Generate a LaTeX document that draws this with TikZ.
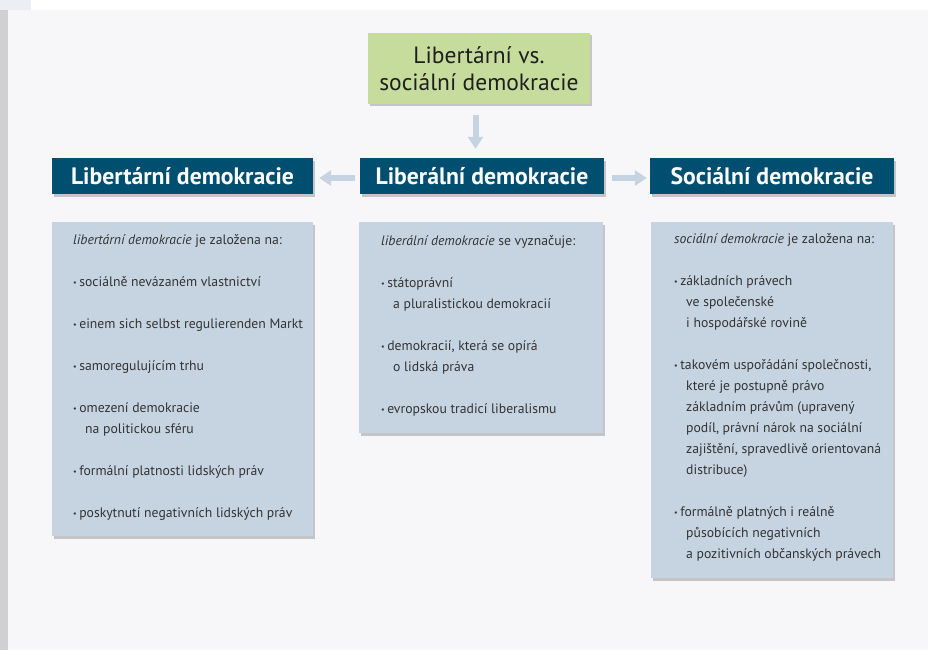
\documentclass[tikz,border=0pt]{standalone}
\usepackage{fontspec}
\setmainfont{PT Sans}
\usetikzlibrary{arrows.meta,shadows}
\definecolor{bg}{HTML}{F7F7F9}
\definecolor{tealhdr}{HTML}{004F70}
\definecolor{boxblue}{HTML}{C6D4E1}
\definecolor{titlegreen}{HTML}{C5DC9D}
\definecolor{txt}{HTML}{333333}
\definecolor{strip}{HTML}{D0D0D3}
\definecolor{topleft}{HTML}{ECEEF3}
\newcommand\bul{{\fontsize{8}{8}\selectfont\raisebox{0.8pt}{•}}\hspace{2.5pt}}
\newcommand\cont{\hspace{12pt}}
\begin{document}
\begin{tikzpicture}[x=1pt,y=-1pt,
  shad/.style={drop shadow={shadow xshift=2pt,shadow yshift=-2.5pt,opacity=0.2,fill=black}},
  titlebox/.style={shad,fill=titlegreen,minimum width=222pt,minimum height=71pt,inner sep=0pt,align=center,font=\fontsize{23.5}{27}\selectfont,text=black!88},
  hdr/.style={shad,fill=tealhdr,text=white,minimum height=36pt,inner sep=0pt,font=\fontsize{23.7}{26}\selectfont\bfseries},
  cbox/.style={shad,fill=boxblue,anchor=north west,inner sep=0pt},
  ctext/.style={anchor=north west,inner sep=0pt,align=left,text=txt,font=\fontsize{13.7}{21}\selectfont},
  arr/.style={draw=boxblue,line width=6pt,-{Triangle[width=15pt,length=12pt]}}]
\useasboundingbox (0,0) rectangle (928,650);
% background
\fill[white] (0,0) rectangle (928,650);
\fill[topleft] (0,0) rectangle (31,10);
\fill[strip] (0,10) rectangle (8,650);
\fill[bg] (8,10) rectangle (928,650);
% title
\node[titlebox] (title) at (479,68.5) {Libertární vs.\\sociální demokracie};
% headers
\node[hdr,minimum width=261pt] (libhdr) at (182.5,176) {Libertární demokracie};
\node[hdr,minimum width=244pt] (lbrhdr) at (482,176) {Liberální demokracie};
\node[hdr,minimum width=244pt] (sochdr) at (772,176) {Sociální demokracie};
% arrows
\draw[arr] ([xshift=-3.5pt,yshift=-11pt]title.south) -- ([xshift=-6.5pt,yshift=9pt]lbrhdr.north);
\draw[arr] ([xshift=-5pt,yshift=-2pt]lbrhdr.west) -- ([xshift=6pt,yshift=-2pt]libhdr.east);
\draw[arr] ([xshift=8pt,yshift=-2pt]lbrhdr.east) -- ([xshift=-3pt,yshift=-2pt]sochdr.west);
% content boxes
\node[cbox,minimum width=261pt,minimum height=314pt] (libbox) at (52,222) {};
\node[cbox,minimum width=244pt,minimum height=211pt] (lbrbox) at (359,222) {};
\node[cbox,minimum width=242pt,minimum height=356pt] (socbox) at (651,222) {};
% texts
\node[ctext] (libtxt) at (73,234) {\textit{libertární demokracie} je založena na:\\[21pt]
\bul sociálně nevázaném vlastnictví\\[21pt]
\bul einem sich selbst regulierenden Markt\\[21pt]
\bul samoregulujícím trhu\\[21pt]
\bul omezení demokracie\\
\cont na politickou sféru\\[21pt]
\bul formální platnosti lidských práv\\[21pt]
\bul poskytnutí negativních lidských práv};
\node[ctext] (lbrtxt) at (381,235) {\textit{liberální demokracie} se vyznačuje:\\[21pt]
\bul státoprávní\\
\cont a pluralistickou demokracií\\[21pt]
\bul demokracií, která se opírá\\
\cont o lidská práva\\[21pt]
\bul evropskou tradicí liberalismu};
\node[ctext] (soctxt) at (674,233) {\textit{sociální demokracie} je založena na:\\[21pt]
\bul základních právech\\
\cont ve společenské\\
\cont i hospodářské rovině\\[21pt]
\bul takovém uspořádání společnosti,\\
\cont které je postupně právo\\
\cont základním právům (upravený\\
\cont podíl, právní nárok na sociální\\
\cont zajištění, spravedlivě orientovaná\\
\cont distribuce)\\[21pt]
\bul formálně platných i reálně\\
\cont působících negativních\\
\cont a pozitivních občanských právech};
\end{tikzpicture}
\end{document}
